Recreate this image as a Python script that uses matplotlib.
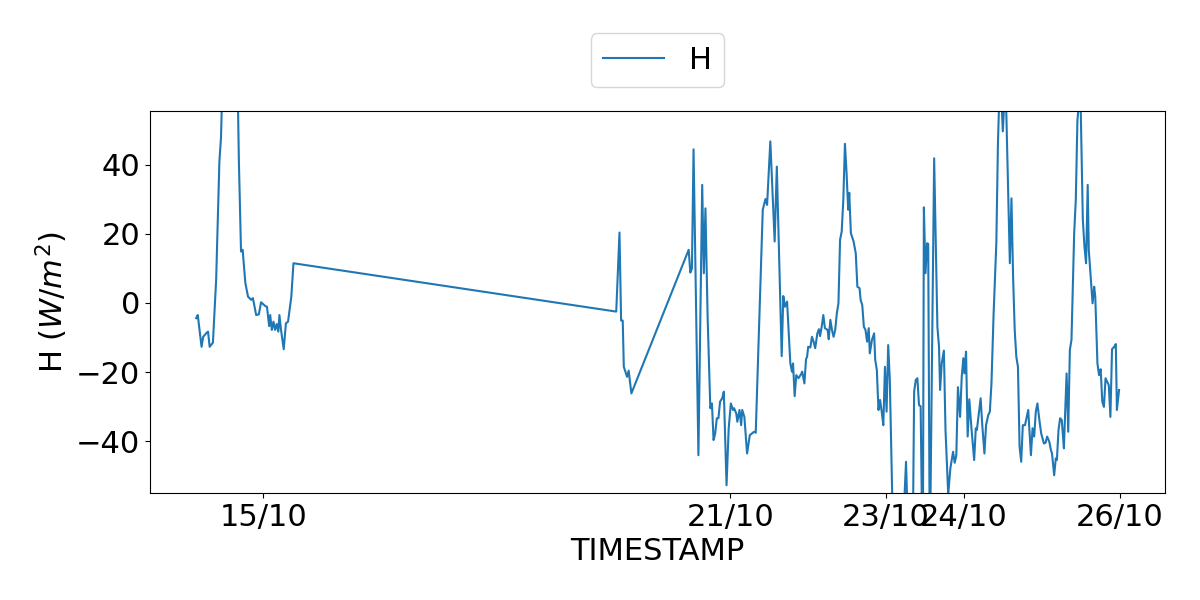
import matplotlib
matplotlib.use("Agg")
import matplotlib.pyplot as plt
import matplotlib.dates as mdates
import pandas as pd

# ---- data ----
times_a = ["2023-10-14 03:20", "2023-10-14 03:50", "2023-10-14 05:00", "2023-10-14 05:30",
           "2023-10-14 06:30", "2023-10-14 07:00", "2023-10-14 07:30", "2023-10-14 08:30",
           "2023-10-14 09:30", "2023-10-14 10:30", "2023-10-14 11:00", "2023-10-14 12:00",
           "2023-10-14 13:00", "2023-10-14 14:30", "2023-10-14 15:30", "2023-10-14 16:30",
           "2023-10-14 17:10", "2023-10-14 17:40", "2023-10-14 18:30", "2023-10-14 19:20",
           "2023-10-14 20:20", "2023-10-14 20:50", "2023-10-14 21:50", "2023-10-14 22:40",
           "2023-10-14 23:20", "2023-10-15 00:40", "2023-10-15 01:10", "2023-10-15 01:50",
           "2023-10-15 02:10", "2023-10-15 02:40", "2023-10-15 03:10", "2023-10-15 03:40",
           "2023-10-15 04:10", "2023-10-15 04:40", "2023-10-15 05:00", "2023-10-15 05:30",
           "2023-10-15 06:20", "2023-10-15 07:00", "2023-10-15 07:40", "2023-10-15 08:40",
           "2023-10-15 09:20"]
values_a = [-4.4, -3.5, -12.7, -9.8,
            -8.7, -8.3, -12.7, -11.5,
            6.7, 41.0, 48.0, 85.0,
            110.0, 125.0, 100.0, 41.4,
            14.9, 15.4, 5.8, 1.8,
            0.9, 1.4, -3.5, -3.3,
            0.2, -0.9, -1.1, -6.7,
            -3.5, -7.8, -5.4, -7.8,
            -6.1, -8.3, -3.5, -7.8,
            -13.4, -5.9, -5.4, 1.8,
            11.5]

times_b = ["2023-10-19 12:50", "2023-10-19 13:50", "2023-10-19 14:20", "2023-10-19 14:50",
           "2023-10-19 15:10", "2023-10-19 15:40", "2023-10-19 16:10", "2023-10-19 16:40",
           "2023-10-19 17:30"]
values_b = [-2.5, 20.4, -5.1, -5.1,
            -18.5, -19.9, -21.4, -19.6,
            -26.2]

times_c = ["2023-10-20 11:10", "2023-10-20 11:40", "2023-10-20 12:10", "2023-10-20 12:40",
           "2023-10-20 14:10", "2023-10-20 15:20", "2023-10-20 15:50", "2023-10-20 16:20",
           "2023-10-20 17:00", "2023-10-20 17:50", "2023-10-20 18:20", "2023-10-20 18:50",
           "2023-10-20 19:20", "2023-10-20 19:50", "2023-10-20 20:20", "2023-10-20 20:50",
           "2023-10-20 21:30", "2023-10-20 22:00", "2023-10-20 22:50", "2023-10-20 23:30",
           "2023-10-21 00:10", "2023-10-21 00:50", "2023-10-21 01:10", "2023-10-21 01:50",
           "2023-10-21 02:10", "2023-10-21 02:50", "2023-10-21 03:20", "2023-10-21 03:40",
           "2023-10-21 04:20", "2023-10-21 05:10", "2023-10-21 06:00", "2023-10-21 06:40",
           "2023-10-21 07:20", "2023-10-21 07:50", "2023-10-21 10:00", "2023-10-21 10:50",
           "2023-10-21 11:20", "2023-10-21 12:20", "2023-10-21 13:40", "2023-10-21 14:20",
           "2023-10-21 15:50", "2023-10-21 16:20", "2023-10-21 16:50", "2023-10-21 17:30",
           "2023-10-21 18:30", "2023-10-21 19:00", "2023-10-21 19:20", "2023-10-21 19:50",
           "2023-10-21 20:20", "2023-10-21 21:00", "2023-10-21 21:50", "2023-10-21 22:10",
           "2023-10-21 22:50", "2023-10-21 23:20", "2023-10-21 23:40"]
values_c = [15.4, 8.8, 10.0, 44.5,
            -44.1, 34.2, 8.6, 27.4,
            -4.0, -30.5, -29.1, -39.7,
            -37.8, -33.4, -33.4, -28.6,
            -27.6, -25.7, -52.8, -36.3,
            -29.1, -31.0, -30.5, -32.0,
            -34.4, -31.0, -35.4, -31.0,
            -33.0, -43.6, -38.3, -37.8,
            -37.3, -37.6, 27.0, 30.1,
            28.4, 46.8, 17.8, 39.5,
            -15.4, 2.0, -1.1, 0.4,
            -17.5, -19.9, -17.5, -27.0,
            -20.9, -21.8, -20.6, -19.9,
            -23.3, -16.3, -15.6]

times_d = ["2023-10-22 00:00", "2023-10-22 00:40", "2023-10-22 01:10", "2023-10-22 01:40",
           "2023-10-22 02:10", "2023-10-22 02:50", "2023-10-22 03:20", "2023-10-22 03:40",
           "2023-10-22 04:10", "2023-10-22 04:40", "2023-10-22 05:10", "2023-10-22 06:00",
           "2023-10-22 06:20", "2023-10-22 06:50", "2023-10-22 07:20", "2023-10-22 07:50",
           "2023-10-22 08:20", "2023-10-22 08:50", "2023-10-22 09:20", "2023-10-22 09:50",
           "2023-10-22 10:20", "2023-10-22 10:50", "2023-10-22 11:20", "2023-10-22 11:50",
           "2023-10-22 12:20", "2023-10-22 12:40", "2023-10-22 13:10", "2023-10-22 14:00",
           "2023-10-22 14:40", "2023-10-22 15:10", "2023-10-22 15:50", "2023-10-22 16:10",
           "2023-10-22 16:40", "2023-10-22 17:10", "2023-10-22 17:40", "2023-10-22 18:10",
           "2023-10-22 18:40", "2023-10-22 19:00", "2023-10-22 19:40", "2023-10-22 20:20",
           "2023-10-22 20:40", "2023-10-22 21:10", "2023-10-22 21:40", "2023-10-22 22:10",
           "2023-10-22 22:40", "2023-10-22 23:10", "2023-10-22 23:40"]
values_d = [-12.7, -12.9, -9.8, -11.2,
            -13.1, -8.8, -7.6, -9.6,
            -6.9, -3.5, -7.3, -7.8,
            -10.5, -4.9, -7.8, -9.8,
            -7.8, -3.0, -0.1, 18.3,
            20.7, 29.9, 46.1, 37.7,
            27.0, 31.9, 20.2, 17.8,
            14.4, 4.7, 4.3, 0.9,
            -0.6, -6.9, -7.8, -11.2,
            -7.3, -14.6, -10.7, -8.8,
            -16.5, -19.4, -31.0, -28.1,
            -31.5, -35.4, -18.5]

times_e = ["2023-10-23 00:10", "2023-10-23 00:40", "2023-10-23 01:10", "2023-10-23 02:20",
           "2023-10-23 03:20", "2023-10-23 04:40", "2023-10-23 05:30", "2023-10-23 06:10",
           "2023-10-23 06:50", "2023-10-23 07:40", "2023-10-23 08:20", "2023-10-23 08:40",
           "2023-10-23 09:10", "2023-10-23 09:40", "2023-10-23 10:10", "2023-10-23 10:40",
           "2023-10-23 11:20", "2023-10-23 11:40", "2023-10-23 12:10", "2023-10-23 12:40",
           "2023-10-23 13:00", "2023-10-23 13:30", "2023-10-23 14:50", "2023-10-23 15:50",
           "2023-10-23 16:20", "2023-10-23 16:40", "2023-10-23 17:10", "2023-10-23 17:50",
           "2023-10-23 18:20", "2023-10-23 19:10", "2023-10-23 19:50", "2023-10-23 20:40",
           "2023-10-23 21:10", "2023-10-23 21:40", "2023-10-23 22:10", "2023-10-23 22:50",
           "2023-10-23 23:20", "2023-10-23 23:50"]
values_e = [-31.5, -12.2, -22.3, -75.0,
            -85.0, -70.0, -60.0, -46.0,
            -68.0, -72.0, -60.0, -25.7,
            -22.3, -21.8, -29.6, -29.9,
            -80.0, 27.7, 8.6, 17.3,
            17.1, -75.0, 41.9, -6.9,
            -12.7, -25.2, -17.5, -13.8,
            -36.8, -55.5, -47.9, -43.1,
            -46.3, -44.1, -24.4, -33.0,
            -21.4, -16.0]

times_f = ["2023-10-24 00:10", "2023-10-24 00:40", "2023-10-24 01:10", "2023-10-24 01:40",
           "2023-10-24 02:20", "2023-10-24 03:10", "2023-10-24 03:40", "2023-10-24 04:00",
           "2023-10-24 04:40", "2023-10-24 05:10", "2023-10-24 05:40", "2023-10-24 06:20",
           "2023-10-24 06:50", "2023-10-24 07:30", "2023-10-24 08:00", "2023-10-24 08:30",
           "2023-10-24 09:10", "2023-10-24 10:00", "2023-10-24 10:30", "2023-10-24 11:10",
           "2023-10-24 12:00", "2023-10-24 12:50", "2023-10-24 14:10", "2023-10-24 14:40",
           "2023-10-24 15:10", "2023-10-24 15:40", "2023-10-24 16:10", "2023-10-24 16:40",
           "2023-10-24 17:10", "2023-10-24 17:40", "2023-10-24 18:10", "2023-10-24 18:50",
           "2023-10-24 19:50", "2023-10-24 20:40", "2023-10-24 21:10", "2023-10-24 21:40",
           "2023-10-24 22:10", "2023-10-24 22:40", "2023-10-24 23:20", "2023-10-24 23:50"]
values_f = [-20.4, -14.1, -38.7, -27.9,
            -36.3, -45.5, -36.3, -36.8,
            -31.5, -27.6, -35.4, -43.6,
            -35.4, -32.5, -31.5, -23.3,
            -3.0, 17.3, 46.3, 68.0,
            49.7, 65.0, 11.5, 30.3,
            7.6, -7.8, -15.6, -18.5,
            -41.6, -46.0, -35.4, -35.4,
            -31.0, -44.1, -36.3, -38.7,
            -31.5, -29.1, -34.4, -37.8]

times_g = ["2023-10-25 00:40", "2023-10-25 01:10", "2023-10-25 01:40", "2023-10-25 02:20",
           "2023-10-25 02:50", "2023-10-25 03:10", "2023-10-25 03:50", "2023-10-25 04:20",
           "2023-10-25 04:40", "2023-10-25 05:10", "2023-10-25 05:40", "2023-10-25 06:10",
           "2023-10-25 06:50", "2023-10-25 07:00", "2023-10-25 07:40", "2023-10-25 08:10",
           "2023-10-25 08:40", "2023-10-25 09:10", "2023-10-25 10:00", "2023-10-25 10:30",
           "2023-10-25 11:00", "2023-10-25 11:30", "2023-10-25 12:00", "2023-10-25 12:40",
           "2023-10-25 13:10", "2023-10-25 13:40", "2023-10-25 14:10", "2023-10-25 14:30",
           "2023-10-25 15:00", "2023-10-25 15:40", "2023-10-25 16:10", "2023-10-25 16:30",
           "2023-10-25 17:10", "2023-10-25 17:40", "2023-10-25 18:10", "2023-10-25 18:40",
           "2023-10-25 19:10", "2023-10-25 19:40", "2023-10-25 20:10", "2023-10-25 20:40",
           "2023-10-25 21:10", "2023-10-25 21:40", "2023-10-25 22:20", "2023-10-25 22:50",
           "2023-10-25 23:10", "2023-10-25 23:50"]
values_g = [-40.7, -40.5, -38.7, -40.2,
            -42.6, -43.6, -49.9, -45.0,
            -45.5, -36.8, -33.4, -33.9,
            -42.1, -37.3, -20.4, -37.3,
            -13.6, -10.7, 20.2, 29.9,
            53.0, 58.0, 57.0, 24.1,
            16.3, 11.5, 34.2, 15.4,
            8.6, -0.1, 4.7, 1.8,
            -17.5, -20.9, -19.2, -28.6,
            -30.1, -21.8, -22.8, -23.8,
            -33.0, -13.4, -12.7, -11.9,
            -31.0, -25.2]

tick_dates = ["2023-10-15", "2023-10-21", "2023-10-23", "2023-10-24", "2023-10-26"]

# ---- assemble ----
all_times = times_a + times_b + times_c + times_d + times_e + times_f + times_g
all_values = values_a + values_b + values_c + values_d + values_e + values_f + values_g
series = pd.Series(all_values, index=pd.to_datetime(all_times), name="H")

FS = 22

fig = plt.figure(figsize=(12, 6), dpi=100)
ax = fig.add_axes([0.125, 0.178, 0.846, 0.637])
ax.plot(series.index, series.values, color="#1f77b4", linewidth=1.5, label="H")

ax.set_ylim(-55.1, 55.6)
ax.set_xticks(pd.to_datetime(tick_dates))
ax.xaxis.set_major_formatter(mdates.DateFormatter("%d/%m"))
ax.tick_params(axis="both", labelsize=FS)
ax.set_xlabel("TIMESTAMP", fontsize=FS)
ax.set_ylabel("H ($W/m^2$)", fontsize=FS)

ax.legend(loc="lower center", bbox_to_anchor=(0.5, 1.063), borderaxespad=0,
          fontsize=FS, frameon=True)

fig.savefig("out.png", dpi=100)
